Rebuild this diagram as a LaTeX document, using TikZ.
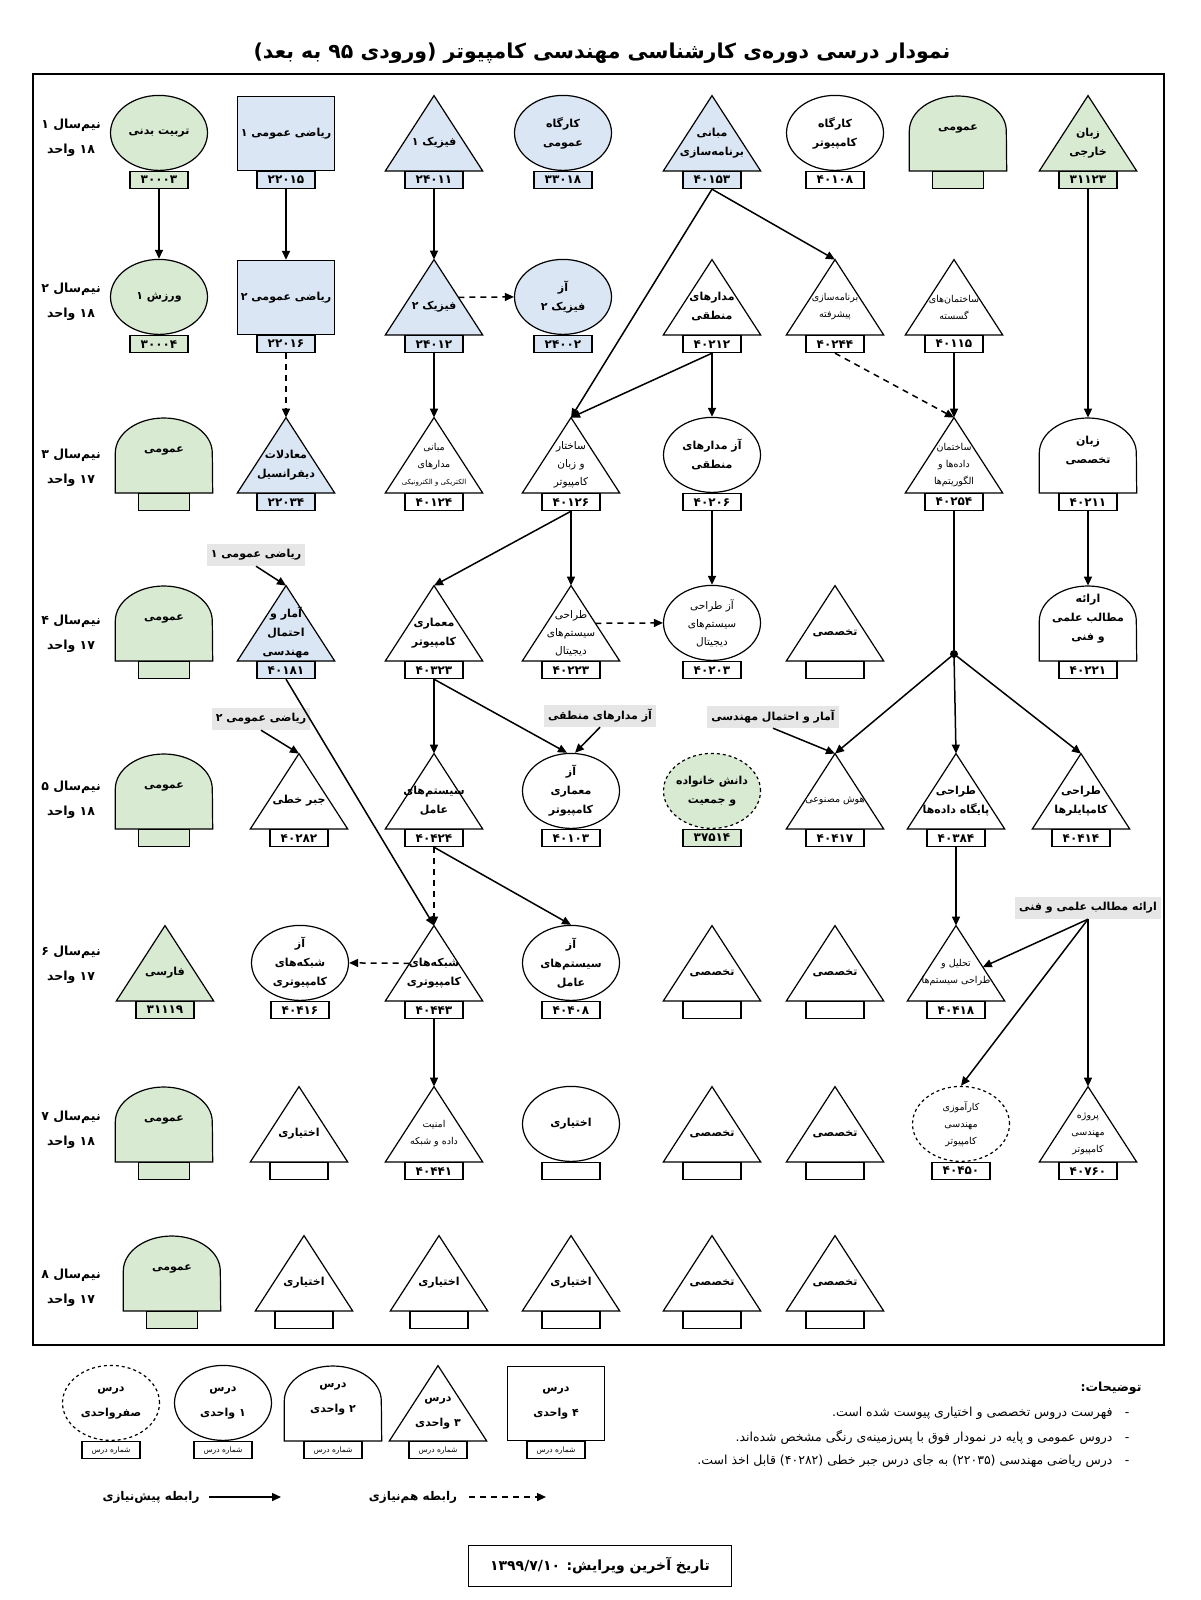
\documentclass[tikz,border=0pt]{standalone}
\usepackage{fontspec}
\setmainfont[Script=Arabic]{DejaVu Sans}
\TeXXeTstate=1
\usetikzlibrary{arrows.meta,shapes.geometric,calc}
\definecolor{greenbg}{HTML}{D9EAD3}
\definecolor{bluebg}{HTML}{DAE6F4}
\definecolor{notebg}{HTML}{E6E6E6}
\newcommand{\rl}[1]{\beginR #1\endR}
\newcommand{\lgcode}{{\mdseries\fontsize{7.5}{8}\selectfont\rl{شماره درس}}}
% course shapes: [text style], name, x, base y, fill, text, code
\newcommand{\tricourse}[7][]{%
  \node[bbox] (#2) at (#3,#4) {};
  \filldraw[shp, fill=#5] (#2.south west) -- (#2.north) -- (#2.south east) -- cycle;
  \node[txt, #1] at ([yshift=28pt]#2.south) {#6};
  \node[codebx, fill=#5] (#2-c) at (#2.south) {#7};
}
\newcommand{\ellcourse}[7][]{%
  \node[ellnode, fill=#5, #1] (#2) at (#3,#4) {};
  \node[txt, #1] at (#2) {#6};
  \node[codebx, fill=#5] (#2-c) at (#2.south) {#7};
}
\newcommand{\rectcourse}[6]{%
  \node[rectnode, fill=#4] (#1) at (#2,#3) {};
  \node[txt] at (#1) {#5};
  \node[codebx, fill=#4] (#1-c) at (#1.south) {#6};
}
\newcommand{\domecourse}[7][]{%
  \node[bbox] (#2) at (#3,#4) {};
  \filldraw[shp, fill=#5] (#2.south west) -- ([yshift=40pt]#2.south west)
    arc[start angle=180, end angle=0, x radius=48.5pt, y radius=35pt] -- (#2.south east) -- cycle;
  \node[txt] at ([yshift=42pt]#2.south) {#6};
  \node[codebx, fill=#5, #1] (#2-c) at (#2.south) {#7};
}

\begin{document}
\begin{tikzpicture}[x=1pt, y=-1pt, >={Triangle[length=9pt,width=8pt]},
    shp/.style={draw=black, line width=1.2pt},
    bbox/.style={minimum width=97pt, minimum height=75pt, inner sep=0pt, anchor=south},
    ellnode/.style={ellipse, draw, line width=1.2pt, minimum width=97pt, minimum height=75pt, inner sep=0pt, anchor=south},
    rectnode/.style={rectangle, draw, line width=1.2pt, minimum width=97pt, minimum height=74pt, inner sep=0pt, anchor=south},
    codebx/.style={draw, line width=1.2pt, minimum width=58pt, minimum height=17pt, inner sep=0pt, anchor=north, font=\bfseries\fontsize{12}{12}\selectfont},
    txt/.style={align=center, inner sep=0pt, font=\bfseries\fontsize{11}{19}\selectfont},
    smtxt/.style={font=\mdseries\fontsize{9.5}{17}\selectfont},
    midtxt/.style={font=\mdseries\fontsize{10.5}{18}\selectfont},
    grnote/.style={fill=notebg, inner sep=4pt, minimum height=22pt, font=\bfseries\fontsize{11}{11}\selectfont},
    rowlbl/.style={align=center, font=\bfseries\fontsize{12.5}{25}\selectfont},
    prereq/.style={->, line width=1.5pt},
    coreq/.style={->, line width=1.5pt, dash pattern=on 6pt off 5pt},
    junc/.style={circle, fill, inner sep=0pt, minimum size=8pt}]
\useasboundingbox (0,0) rectangle (1200,1600);

\node[font=\bfseries\fontsize{20.5}{20.5}\selectfont] (ttl) at (602,53) {\rl{نمودار درسی دوره‌ی کارشناسی مهندسی کامپیوتر (ورودی ۹۵ به بعد)}};
\draw[line width=1.3pt] (33,74) rectangle (1164,1345);

% semesters
\node[rowlbl] (s1) at (71,138) {\rl{نیم‌سال ۱}\\\rl{۱۸ واحد}};
\node[rowlbl] (s2) at (71,302) {\rl{نیم‌سال ۲}\\\rl{۱۸ واحد}};
\node[rowlbl] (s3) at (71,468) {\rl{نیم‌سال ۳}\\\rl{۱۷ واحد}};
\node[rowlbl] (s4) at (71,634) {\rl{نیم‌سال ۴}\\\rl{۱۷ واحد}};
\node[rowlbl] (s5) at (71,800) {\rl{نیم‌سال ۵}\\\rl{۱۸ واحد}};
\node[rowlbl] (s6) at (71,965) {\rl{نیم‌سال ۶}\\\rl{۱۷ واحد}};
\node[rowlbl] (s7) at (71,1130) {\rl{نیم‌سال ۷}\\\rl{۱۸ واحد}};
\node[rowlbl] (s8) at (71,1288) {\rl{نیم‌سال ۸}\\\rl{۱۷ واحد}};

% row 1
\ellcourse{tarbiat}{159}{171}{greenbg}{\rl{تربیت بدنی}}{۳۰۰۰۳}
\rectcourse{riazi1}{286}{171}{bluebg}{\rl{ریاضی عمومی ۱}}{۲۲۰۱۵}
\tricourse{fizik1}{434}{171}{bluebg}{\rl{فیزیک ۱}}{۲۴۰۱۱}
\ellcourse{kargah}{563}{171}{bluebg}{کارگاه\\عمومی}{۳۳۰۱۸}
\tricourse{mabani}{712}{171}{bluebg}{مبانی\\برنامه‌سازی}{۴۰۱۵۳}
\ellcourse{kargahc}{835}{171}{white}{کارگاه\\کامپیوتر}{۴۰۱۰۸}
\domecourse[minimum width=51pt]{omumi1}{958}{171}{greenbg}{عمومی}{}
\tricourse{khareji}{1088}{171}{greenbg}{زبان\\خارجی}{۳۱۱۲۳}

% row 2
\ellcourse{varzesh}{159}{335}{greenbg}{\rl{ورزش ۱}}{۳۰۰۰۴}
\rectcourse{riazi2}{286}{335}{bluebg}{\rl{ریاضی عمومی ۲}}{۲۲۰۱۶}
\tricourse{fizik2}{434}{335}{bluebg}{\rl{فیزیک ۲}}{۲۴۰۱۲}
\ellcourse{azfizik}{563}{335}{bluebg}{آز\\\rl{فیزیک ۲}}{۲۴۰۰۲}
\tricourse{madar}{712}{335}{white}{مدارهای\\منطقی}{۴۰۲۱۲}
\tricourse[smtxt]{pishrafte}{835}{335}{white}{برنامه‌سازی\\پیشرفته}{۴۰۲۴۴}
\tricourse[smtxt]{gosaste}{954}{335}{white}{ساختمان‌های\\گسسته}{۴۰۱۱۵}

% row 3
\domecourse[minimum width=51pt]{omumi3}{164}{493}{greenbg}{عمومی}{}
\tricourse{moadelat}{286}{493}{bluebg}{معادلات\\دیفرانسیل}{۲۲۰۳۴}
\tricourse[smtxt]{mabanimadar}{434}{493}{white}{مبانی\\مدارهای\\{\fontsize{7}{12}\selectfont\rl{الکتریکی و الکترونیکی}}}{۴۰۱۲۴}
\tricourse[midtxt]{sakhtar}{571}{493}{white}{ساختار\\\rl{و زبان}\\کامپیوتر}{۴۰۱۲۶}
\ellcourse{azmadar}{712}{493}{white}{\rl{آز مدارهای}\\منطقی}{۴۰۲۰۶}
\tricourse[smtxt]{dade}{954}{493}{white}{ساختمان\\\rl{داده‌ها و}\\الگوریتم‌ها}{۴۰۲۵۴}
\domecourse{zabant}{1088}{493}{white}{زبان\\تخصصی}{۴۰۲۱۱}

% row 4
\domecourse[minimum width=51pt]{omumi4}{164}{661}{greenbg}{عمومی}{}
\tricourse{amar}{286}{661}{bluebg}{\rl{آمار و}\\احتمال\\مهندسی}{۴۰۱۸۱}
\tricourse{memari}{434}{661}{white}{معماری\\کامپیوتر}{۴۰۳۲۳}
\tricourse[midtxt]{digital}{571}{661}{white}{طراحی\\سیستم‌های\\دیجیتال}{۴۰۲۲۳}
\ellcourse[midtxt]{azdigital}{712}{661}{white}{\rl{آز طراحی}\\سیستم‌های\\دیجیتال}{۴۰۲۰۳}
\tricourse{takh4}{835}{661}{white}{تخصصی}{}
\domecourse{erae}{1088}{661}{white}{ارائه\\\rl{مطالب علمی}\\\rl{و فنی}}{۴۰۲۲۱}

% row 5
\domecourse[minimum width=51pt]{omumi5}{164}{829}{greenbg}{عمومی}{}
\tricourse{jabr}{299}{829}{white}{\rl{جبر خطی}}{۴۰۲۸۲}
\tricourse{amel}{434}{829}{white}{سیستم‌های\\عامل}{۴۰۴۲۴}
\ellcourse{azmemari}{571}{829}{white}{آز\\معماری\\کامپیوتر}{۴۰۱۰۳}
\ellcourse[dashed]{danesh}{712}{829}{greenbg}{\rl{دانش خانواده}\\\rl{و جمعیت}}{۳۷۵۱۴}
\tricourse[smtxt]{hoosh}{835}{829}{white}{\rl{هوش مصنوعی}}{۴۰۴۱۷}
\tricourse{paygah}{956}{829}{white}{طراحی\\\rl{پایگاه داده‌ها}}{۴۰۳۸۴}
\tricourse{compiler}{1081}{829}{white}{طراحی\\کامپایلرها}{۴۰۴۱۴}

% row 6
\tricourse{farsi}{165}{1001}{greenbg}{فارسی}{۳۱۱۱۹}
\ellcourse{azshabake}{300}{1001}{white}{آز\\شبکه‌های\\کامپیوتری}{۴۰۴۱۶}
\tricourse{shabake}{434}{1001}{white}{شبکه‌های\\کامپیوتری}{۴۰۴۴۳}
\ellcourse{azamel}{571}{1001}{white}{آز\\سیستم‌های\\عامل}{۴۰۴۰۸}
\tricourse{takh6a}{712}{1001}{white}{تخصصی}{}
\tricourse{takh6b}{835}{1001}{white}{تخصصی}{}
\tricourse[smtxt]{tahlil}{956}{1001}{white}{\rl{تحلیل و}\\\rl{طراحی سیستم‌ها}}{۴۰۴۱۸}

% row 7
\domecourse[minimum width=51pt]{omumi7}{164}{1162}{greenbg}{عمومی}{}
\tricourse{ekht7a}{299}{1162}{white}{اختیاری}{}
\tricourse[smtxt]{amniat}{434}{1162}{white}{امنیت\\\rl{داده و شبکه}}{۴۰۴۴۱}
\ellcourse{ekht7b}{571}{1162}{white}{اختیاری}{}
\tricourse{takh7a}{712}{1162}{white}{تخصصی}{}
\tricourse{takh7b}{835}{1162}{white}{تخصصی}{}
\ellcourse[dashed, smtxt]{karamuzi}{961}{1162}{white}{کارآموزی\\مهندسی\\کامپیوتر}{۴۰۴۵۰}
\tricourse[smtxt]{prozhe}{1088}{1162}{white}{پروژه\\مهندسی\\کامپیوتر}{۴۰۷۶۰}

% row 8
\domecourse[minimum width=51pt]{omumi8}{172}{1311}{greenbg}{عمومی}{}
\tricourse{ekht8a}{304}{1311}{white}{اختیاری}{}
\tricourse{ekht8b}{439}{1311}{white}{اختیاری}{}
\tricourse{ekht8c}{571}{1311}{white}{اختیاری}{}
\tricourse{takh8a}{712}{1311}{white}{تخصصی}{}
\tricourse{takh8b}{835}{1311}{white}{تخصصی}{}

% outside prerequisites
\node[grnote] (n1) at (256,555) {\rl{ریاضی عمومی ۱}};
\node[grnote] (n2) at (261,719) {\rl{ریاضی عمومی ۲}};
\node[grnote] (n3) at (600,716) {\rl{آز مدارهای منطقی}};
\node[grnote] (n4) at (773,717) {\rl{آمار و احتمال مهندسی}};
\node[grnote] (n5) at (1088,908) {\rl{ارائه مطالب علمی و فنی}};
\node[junc] (split) at (954,654) {};

% connectors
\draw[prereq] (tarbiat-c.south) -- (varzesh.north);
\draw[prereq] (riazi1-c.south) -- (riazi2.north);
\draw[prereq] (fizik1-c.south) -- (fizik2.north);
\draw[coreq] ($(fizik2.north)!0.5!(fizik2.south east)$) -- (azfizik.west);
\draw[prereq] (mabani-c.south) -- (sakhtar.north);
\draw[prereq] (mabani-c.south) -- (pishrafte.north);
\draw[prereq] (khareji-c.south) -- (zabant.north);
\draw[coreq] (riazi2-c.south) -- (moadelat.north);
\draw[prereq] (fizik2-c.south) -- (mabanimadar.north);
\draw[prereq] (madar-c.south) -- (sakhtar.north);
\draw[prereq] (madar-c.south) -- (azmadar.north);
\draw[coreq] (pishrafte-c.south) -- (dade.north);
\draw[prereq] (gosaste-c.south) -- (dade.north);
\draw[prereq] (n1.south) -- (amar.north);
\draw[prereq] (sakhtar-c.south) -- (memari.north);
\draw[prereq] (sakhtar-c.south) -- (digital.north);
\draw[coreq] ($(digital.north)!0.5!(digital.south east)$) -- (azdigital.west);
\draw[prereq] (azmadar-c.south) -- (azdigital.north);
\draw[prereq] (zabant-c.south) -- (erae.north);
\draw[line width=1.5pt] (dade-c.south) -- (split.center);
\draw[prereq] (split.center) -- (hoosh.north);
\draw[prereq] (split.center) -- (paygah.north);
\draw[prereq] (split.center) -- (compiler.north);
\draw[prereq] (n2.south) -- (jabr.north);
\draw[prereq] (memari-c.south) -- (amel.north);
\draw[prereq] (memari-c.south) -- ([xshift=-4pt]azmemari.north);
\draw[prereq] (n3.south) -- ([xshift=4pt]azmemari.north);
\draw[prereq] (n4.south) -- (hoosh.north);
\draw[prereq] (amar-c.south) -- (shabake.north);
\draw[coreq] (amel-c.south) -- (shabake.north);
\draw[prereq] (amel-c.south) -- (azamel.north);
\draw[coreq] ($(shabake.north)!0.5!(shabake.south west)$) -- (azshabake.east);
\draw[prereq] (paygah-c.south) -- (tahlil.north);
\draw[prereq] (n5.south) -- ($(tahlil.north)!0.55!(tahlil.south east)$);
\draw[prereq] (n5.south) -- (karamuzi.north);
\draw[prereq] (n5.south) -- (prozhe.north);
\draw[prereq] (shabake-c.south) -- (amniat.north);

% legend
\ellcourse[dashed]{lg0}{111}{1441}{white}{درس\\[6pt]صفرواحدی}{\lgcode}
\ellcourse{lg1}{223}{1441}{white}{درس\\[6pt]\rl{۱ واحدی}}{\lgcode}
\domecourse{lg2}{333}{1441}{white}{درس\\[6pt]\rl{۲ واحدی}}{\lgcode}
\tricourse{lg3}{438}{1441}{white}{درس\\[6pt]\rl{۳ واحدی}}{\lgcode}
\rectcourse{lg4}{556}{1441}{white}{درس\\[6pt]\rl{۴ واحدی}}{\lgcode}

\node[font=\bfseries\fontsize{12}{12}\selectfont] (lpre) at (151,1497) {\rl{رابطه پیش‌نیازی}};
\coordinate (lprea) at (209,1497);
\coordinate (lpreb) at (281,1497);
\draw[prereq] (lprea) -- (lpreb);
\node[font=\bfseries\fontsize{12}{12}\selectfont] (lco) at (413,1497) {\rl{رابطه هم‌نیازی}};
\coordinate (lcoa) at (469,1497);
\coordinate (lcob) at (546,1497);
\draw[coreq] (lcoa) -- (lcob);

% notes
\node[anchor=east, font=\bfseries\fontsize{12.5}{12.5}\selectfont] (tz) at (1145,1388) {\rl{توضیحات:}};
\node[anchor=east, font=\fontsize{12.5}{12.5}\selectfont] (tz1) at (1133,1413) {\rl{-\quad فهرست دروس تخصصی و اختیاری پیوست شده است.}};
\node[anchor=east, font=\fontsize{12.5}{12.5}\selectfont] (tz2) at (1133,1437) {\rl{-\quad دروس عمومی و پایه در نمودار فوق با پس‌زمینه‌ی رنگی مشخص شده‌اند.}};
\node[anchor=east, font=\fontsize{12.5}{12.5}\selectfont] (tz3) at (1133,1461) {\rl{-\quad درس ریاضی مهندسی (۲۲۰۳۵) به جای درس جبر خطی (۴۰۲۸۲) قابل اخذ است.}};

\node[draw, line width=1.3pt, minimum width=263pt, minimum height=41pt, font=\bfseries\fontsize{14}{14}\selectfont] (date) at (600,1566) {\rl{تاریخ آخرین ویرایش: ۱۳۹۹/۷/۱۰}};
\end{tikzpicture}
\end{document}
